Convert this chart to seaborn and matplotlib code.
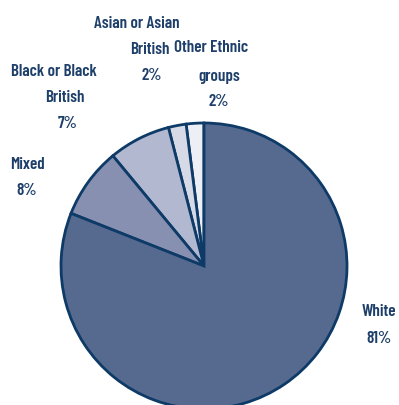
import matplotlib
matplotlib.use("Agg")
import matplotlib.pyplot as plt
import seaborn as sns

# Ethnic group shares (percent), listed counter-clockwise from 12 o'clock
groups = ["Other Ethnic groups", "Asian or Asian British", "Black or Black British", "Mixed", "White"]
shares = [2, 2, 7, 8, 81]
colors = ["#eeeff5", "#d6d9e6", "#b2b8cf", "#8890b1", "#56698f"]

# Label lines and their anchor positions (pixel space, y measured from top)
label_lines = {
    "Other Ethnic groups": [("Other Ethnic", 211, 48), ("groups", 219, 76), ("2%", 219, 101)],
    "Asian or Asian British": [("Asian or Asian", 137, 23), ("British", 150, 49), ("2%", 152, 76)],
    "Black or Black British": [("Black or Black", 54, 72), ("British", 65, 98), ("7%", 68, 124)],
    "Mixed": [("Mixed", 27, 165), ("8%", 27, 191)],
    "White": [("White", 379, 312), ("81%", 379, 339)],
}

sns.set_theme(style="white")
plt.rcParams["font.family"] = ["Barlow Condensed", "Roboto Condensed", "DejaVu Sans"]

W, H = 399, 406
fig = plt.figure(figsize=(W / 100, H / 100), dpi=100)
ax = fig.add_axes([0, 0, 1, 1])

ax.pie(shares, colors=colors, startangle=90, counterclock=True,
       center=(204, H - 267), radius=143,
       wedgeprops=dict(edgecolor="#0d3a66", linewidth=2.0))
ax.set_xlim(0, W)
ax.set_ylim(0, H)
ax.set_aspect("equal")
ax.axis("off")

text_color = "#1d3f6a"
for g in groups:
    for txt, x, y in label_lines[g]:
        ax.text(x, H - y, txt, ha="center", va="center", fontsize=12.3,
                fontweight=600, color=text_color)

fig.savefig("out.png", dpi=100)
